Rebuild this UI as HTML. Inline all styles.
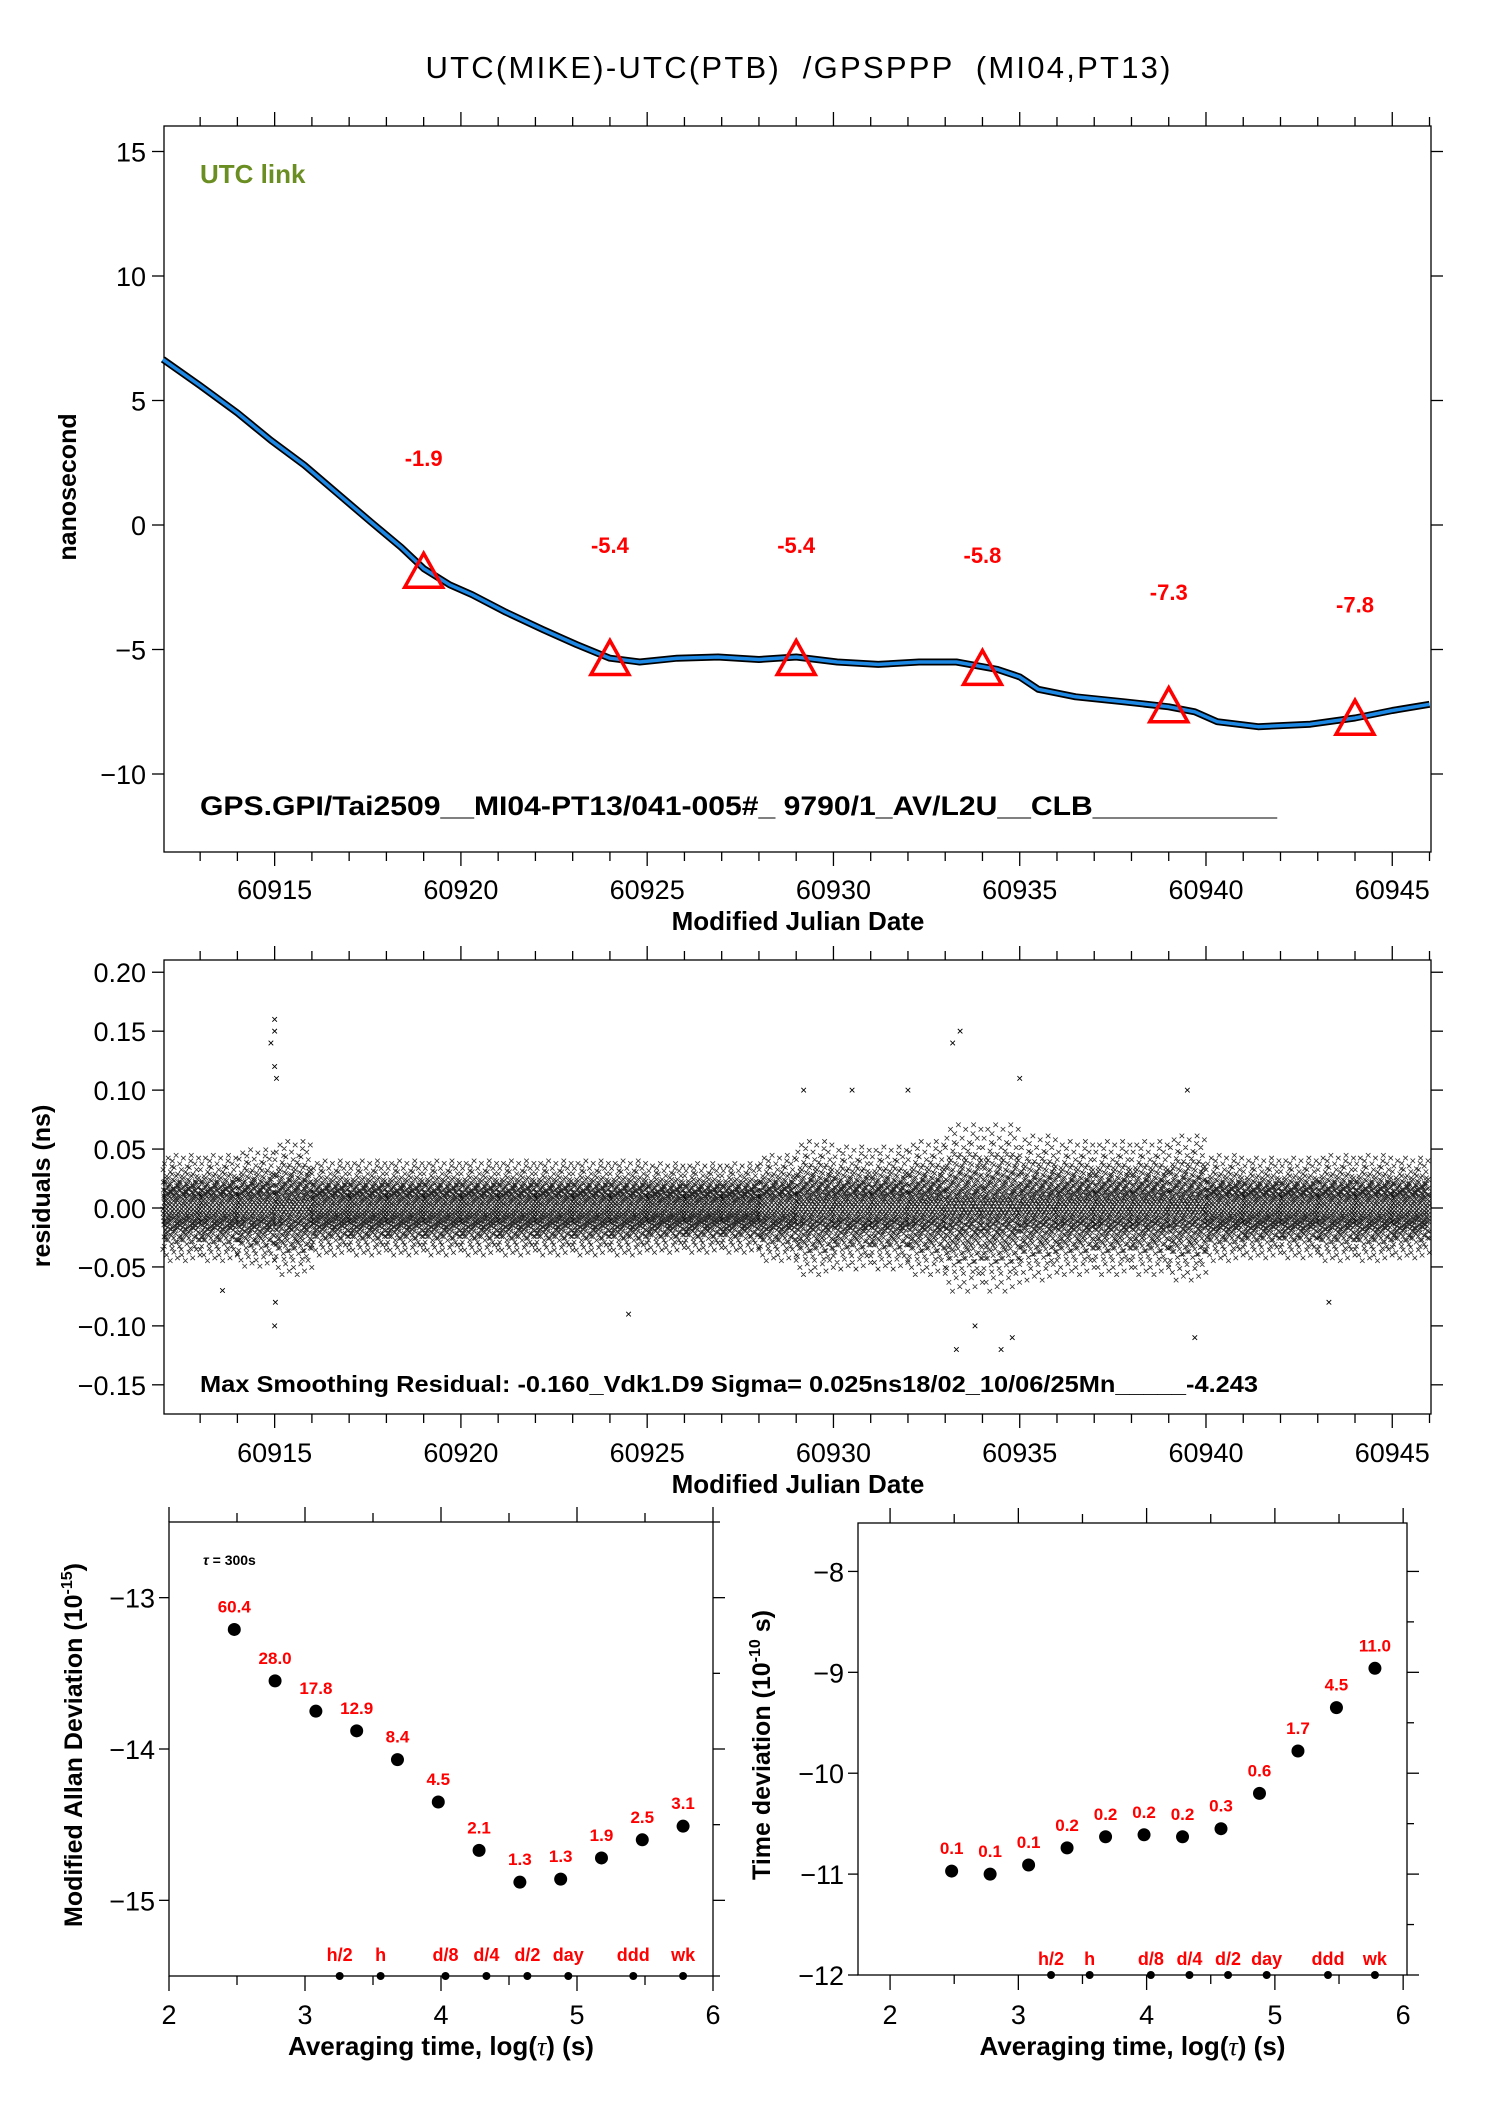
<!DOCTYPE html>
<html><head><meta charset="utf-8"><style>
html,body{margin:0;padding:0;background:#fff}
svg{display:block;font-family:"Liberation Sans",sans-serif}
</style></head><body>
<svg id="chart" xmlns="http://www.w3.org/2000/svg" width="1488" height="2105" viewBox="0 0 1488 2105">
<rect width="1488" height="2105" fill="#fff"/>
<text x="798" y="78" font-size="31" text-anchor="middle" style="white-space:pre" xml:space="preserve" textLength="745">UTC(MIKE)-UTC(PTB)  /GPSPPP  (MI04,PT13)</text>
<g id="g1"></g>
<g id="g2"></g>
<g id="g3"></g>
<g id="g4"></g>
</svg>
<script>
// ---- data: panel 1 ----
const seriesMjd = [60912,60913,60914,60914.9,60915.8,60916.7,60917.6,60918.4,60919,60919.7,60920.3,60921.2,60922.2,60923.1,60924,60924.8,60925.8,60926.9,60928,60929,60930.1,60931.2,60932.3,60933.3,60934.4,60935,60935.5,60936.5,60937.8,60939,60939.7,60940.3,60941.4,60942.8,60944,60945,60946];
const seriesNs = [6.65,5.6,4.5,3.4,2.4,1.25,0.1,-0.9,-1.75,-2.4,-2.8,-3.5,-4.2,-4.8,-5.35,-5.5,-5.35,-5.3,-5.4,-5.3,-5.5,-5.6,-5.5,-5.5,-5.8,-6.1,-6.6,-6.9,-7.1,-7.3,-7.5,-7.9,-8.1,-8.0,-7.75,-7.45,-7.2];
const triMjd = [60919,60924,60929,60934,60939,60944];
const triVals = [-1.9,-5.4,-5.4,-5.8,-7.3,-7.8];
const triLabels = ["-1.9","-5.4","-5.4","-5.8","-7.3","-7.8"];
const y1Ticks = [15,10,5,0,-5,-10];
const y1TickLabels = ["15","10","5","0","\u22125","\u221210"];
const xMjdTicks = [60915,60920,60925,60930,60935,60940,60945];
// ---- data: panel 2 ----
const residDays = [60912,60913,60914,60915,60916,60917,60918,60919,60920,60921,60922,60923,60924,60925,60926,60927,60928,60929,60930,60931,60932,60933,60934,60935,60936,60937,60938,60939,60940,60941,60942,60943,60944,60945];
const residSd = [0.019,0.019,0.021,0.024,0.017,0.017,0.017,0.017,0.017,0.017,0.017,0.017,0.017,0.016,0.016,0.016,0.019,0.024,0.022,0.022,0.024,0.03,0.03,0.026,0.024,0.024,0.024,0.026,0.019,0.018,0.018,0.019,0.019,0.018];
const outMjd = [60915,60915,60914.9,60915,60915.05,60915,60915.02,60933.4,60933.2,60933.3,60934.5,60935,60929.2,60930.5,60939.7,60939.5,60943.3,60924.5,60932,60933.8,60934.8,60913.6];
const outVal = [0.16,0.15,0.14,0.12,0.11,-0.1,-0.08,0.15,0.14,-0.12,-0.12,0.11,0.1,0.1,-0.11,0.1,-0.08,-0.09,0.1,-0.1,-0.11,-0.07];
const y2Ticks = [0.2,0.15,0.1,0.05,0,-0.05,-0.1,-0.15];
const y2TickLabels = ["0.20","0.15","0.10","0.05","0.00","\u22120.05","\u22120.10","\u22120.15"];
// ---- data: panels 3,4 ----
const logTau = [2.48,2.78,3.08,3.38,3.68,3.98,4.28,4.58,4.88,5.18,5.48,5.78];
const adevLog = [-13.21,-13.55,-13.75,-13.88,-14.07,-14.35,-14.67,-14.88,-14.86,-14.72,-14.60,-14.51];
const adevLabels = ["60.4","28.0","17.8","12.9","8.4","4.5","2.1","1.3","1.3","1.9","2.5","3.1"];
const tdevLog = [-10.97,-11.0,-10.91,-10.74,-10.63,-10.61,-10.63,-10.55,-10.2,-9.78,-9.35,-8.96];
const tdevLabels = ["0.1","0.1","0.1","0.2","0.2","0.2","0.2","0.3","0.6","1.7","4.5","11.0"];
const markTau = [3.255,3.556,4.033,4.334,4.635,4.936,5.414,5.78];
const markLabels = ["h/2","h","d/8","d/4","d/2","day","ddd","wk"];
const y3Ticks = [-13,-14,-15];
const y3TickLabels = ["\u221213","\u221214","\u221215"];
const y4Ticks = [-8,-9,-10,-11,-12];
const y4TickLabels = ["\u22128","\u22129","\u221210","\u221211","\u221212"];
const xLogTicks = [2,3,4,5,6];

const NS="http://www.w3.org/2000/svg";
function mk(parent,tag,attrs,name,text){const e=document.createElementNS(NS,tag);for(const k in attrs)e.setAttribute(k,attrs[k]);


if(text!==undefined)e.textContent=text;parent.appendChild(e);return e;}
function lin(d0,d1,r0,r1){return v=>r0+(v-d0)*(r1-r0)/(d1-d0);}

// ---------- Panel 1 ----------
(function(){
const g=document.getElementById('g1');
const L=164,R=1431,T=126,B=852;
const x=lin(60912.03,60946.04,L,R), y=lin(0,15,525,151.5);
mk(g,'rect',{x:L,y:T,width:R-L,height:B-T,fill:'none',stroke:'#000','stroke-width':1.3},'plot-frame');
for(let d=60912;d<=60946;d++){const X=x(d);if(X<L-1||X>R+1)continue;const maj=d%5===0;const len=maj?14:9;
mk(g,'line',{x1:X,y1:B,x2:X,y2:B+len,stroke:'#000','stroke-width':1.3},'x-tick');
mk(g,'line',{x1:X,y1:T,x2:X,y2:T-len,stroke:'#000','stroke-width':1.3},'x-tick-top');}
xMjdTicks.forEach(v=>mk(g,'text',{x:x(v),y:899,'font-size':27,'text-anchor':'middle'},'x-tick-label',String(v)));
y1Ticks.forEach((v,i)=>{const Y=y(v);
mk(g,'line',{x1:L-12,y1:Y,x2:L,y2:Y,stroke:'#000','stroke-width':1.3},'y-tick');
mk(g,'line',{x1:R,y1:Y,x2:R+12,y2:Y,stroke:'#000','stroke-width':1.3},'y-tick-right');
mk(g,'text',{x:L-18,y:Y+10,'font-size':27,'text-anchor':'end'},'y-tick-label',y1TickLabels[i]);});
mk(g,'text',{x:798,y:930,'font-size':26,'font-weight':'bold','text-anchor':'middle'},'x-axis-title','Modified Julian Date');
mk(g,'text',{x:0,y:0,'font-size':25,'font-weight':'bold','text-anchor':'middle',transform:'translate(76,487) rotate(-90)'},'y-axis-title','nanosecond');
mk(g,'text',{x:200,y:183,'font-size':26,'font-weight':'bold',fill:'#6b8e23'},'utc-link-label','UTC link');
const d=seriesMjd.map((m,i)=>(i?'L':'M')+x(m).toFixed(1)+' '+y(seriesNs[i]).toFixed(1)).join(' ');
mk(g,'path',{d:d,fill:'none',stroke:'#000','stroke-width':7,'stroke-linejoin':'round'},'series-outline');
mk(g,'path',{d:d,fill:'none',stroke:'#1e88e5','stroke-width':3.5,'stroke-linejoin':'round'},'series-line');
triMjd.forEach((m,i)=>{const X=x(m),Y=y(triVals[i]);
mk(g,'path',{d:`M${X-19} ${Y+15} L${X} ${Y-19} L${X+19} ${Y+15} Z`,fill:'none',stroke:'#f00','stroke-width':3.5},'triangle-marker');
mk(g,'text',{x:X,y:y(triVals[i]+4.6)+8,'font-size':22,'font-weight':'bold',fill:'#f00','text-anchor':'middle'},'triangle-value-label',triLabels[i]);});
mk(g,'text',{x:200,y:815,'font-size':27,'font-weight':'bold',textLength:1077,lengthAdjust:'spacingAndGlyphs'},'data-id-label','GPS.GPI/Tai2509__MI04-PT13/041-005#_  9790/1_AV/L2U__CLB___________');
})();

// ---------- Panel 2 ----------
(function(){
const g=document.getElementById('g2');
const L=164,R=1431,T=960,B=1414;
const x=lin(60912.03,60946.04,L,R), y=lin(0,0.05,1208,1149.06);
function probit(p){const a=[-39.6968,220.946,-275.929,138.358,-30.6648,2.50663],b=[-54.4761,161.586,-155.699,66.8013,-13.2807],c=[-0.00778489,-0.322396,-2.40076,-2.54973,4.37466,2.93816],dd=[0.00778470,0.322467,2.44513,3.75441];
let q,r;if(p<0.02425){q=Math.sqrt(-2*Math.log(p));return(((((c[0]*q+c[1])*q+c[2])*q+c[3])*q+c[4])*q+c[5])/((((dd[0]*q+dd[1])*q+dd[2])*q+dd[3])*q+1);}
if(p>1-0.02425){q=Math.sqrt(-2*Math.log(1-p));return-(((((c[0]*q+c[1])*q+c[2])*q+c[3])*q+c[4])*q+c[5])/((((dd[0]*q+dd[1])*q+dd[2])*q+dd[3])*q+1);}
q=p-0.5;r=q*q;return(((((a[0]*r+a[1])*r+a[2])*r+a[3])*r+a[4])*r+a[5])*q/(((((b[0]*r+b[1])*r+b[2])*r+b[3])*r+b[4])*r+1);}
const N=28,SUB=12,s=2.3;
residDays.forEach((day,i)=>{let dstr='';
for(let j=0;j<SUB;j++){for(let k=0;k<N;k++){
const m=day+(j+((k*13+j*5)%N)/N)/SUB; if(m>60946)continue;
const v=residSd[i]*probit((k+0.5)/N)*(1+0.12*(((j*7+k*3)%5)-2)/2);
const X=x(m),Y=y(v);
dstr+=`M${(X-s).toFixed(1)} ${(Y-s).toFixed(1)}L${(X+s).toFixed(1)} ${(Y+s).toFixed(1)}M${(X-s).toFixed(1)} ${(Y+s).toFixed(1)}L${(X+s).toFixed(1)} ${(Y-s).toFixed(1)}`;}}
mk(g,'path',{d:dstr,stroke:'#000','stroke-width':0.8,fill:'none','stroke-opacity':0.85},'residual-points-day');});
outMjd.forEach((m,i)=>{const X=x(m),Y=y(outVal[i]);
mk(g,'path',{d:`M${X-s} ${Y-s}L${X+s} ${Y+s}M${X-s} ${Y+s}L${X+s} ${Y-s}`,stroke:'#000','stroke-width':0.9},'residual-outlier');});
mk(g,'rect',{x:L,y:T,width:R-L,height:B-T,fill:'none',stroke:'#000','stroke-width':1.3},'plot-frame');
for(let d=60912;d<=60946;d++){const X=x(d);if(X<L-1||X>R+1)continue;const maj=d%5===0;const len=maj?14:9;
mk(g,'line',{x1:X,y1:B,x2:X,y2:B+len,stroke:'#000','stroke-width':1.3},'x-tick');
mk(g,'line',{x1:X,y1:T,x2:X,y2:T-len,stroke:'#000','stroke-width':1.3},'x-tick-top');}
xMjdTicks.forEach(v=>mk(g,'text',{x:x(v),y:1462,'font-size':27,'text-anchor':'middle'},'x-tick-label',String(v)));
y2Ticks.forEach((v,i)=>{const Y=y(v);
mk(g,'line',{x1:L-12,y1:Y,x2:L,y2:Y,stroke:'#000','stroke-width':1.3},'y-tick');
mk(g,'line',{x1:R,y1:Y,x2:R+12,y2:Y,stroke:'#000','stroke-width':1.3},'y-tick-right');
mk(g,'text',{x:L-18,y:Y+10,'font-size':27,'text-anchor':'end'},'y-tick-label',y2TickLabels[i]);});
mk(g,'text',{x:798,y:1493,'font-size':26,'font-weight':'bold','text-anchor':'middle'},'x-axis-title','Modified Julian Date');
mk(g,'text',{x:0,y:0,'font-size':25,'font-weight':'bold','text-anchor':'middle',transform:'translate(50,1186) rotate(-90)'},'y-axis-title','residuals (ns)');
mk(g,'text',{x:200,y:1392,'font-size':23,'font-weight':'bold',textLength:1058,lengthAdjust:'spacingAndGlyphs'},'residual-stats-label','Max Smoothing Residual: -0.160_Vdk1.D9  Sigma= 0.025ns18/02_10/06/25Mn_____-4.243');
})();

// ---------- Panels 3 & 4 ----------
function stabPanel(gid,L,R,T,B,xd,yd,vals,labels,yTicks,yTickLbls,ylab,ylx,markLblY,tauNote){
const g=document.getElementById(gid);
const x=lin(xd[0],xd[1],L,R), y=lin(yd[0],yd[1],B,T);
mk(g,'rect',{x:L,y:T,width:R-L,height:B-T,fill:'none',stroke:'#000','stroke-width':1.3},'plot-frame');
for(let v=2;v<=6.001;v+=0.5){const X=x(v);const maj=Math.abs(v-Math.round(v))<1e-6;const len=maj?15:9;
mk(g,'line',{x1:X,y1:B,x2:X,y2:B+len,stroke:'#000','stroke-width':1.3},'x-tick');
mk(g,'line',{x1:X,y1:T,x2:X,y2:T-len,stroke:'#000','stroke-width':1.3},'x-tick-top');}
xLogTicks.forEach(v=>mk(g,'text',{x:x(v),y:2024,'font-size':27,'text-anchor':'middle'},'x-tick-label',String(v)));
for(let v=Math.ceil(yd[0]*2)/2;v<=yd[1]+1e-6;v+=0.5){const Y=y(v);const maj=Math.abs(v-Math.round(v))<1e-6;
mk(g,'line',{x1:R,y1:Y,x2:R+(maj?12:7),y2:Y,stroke:'#000','stroke-width':1.3},'y-tick-right');}
yTicks.forEach((v,i)=>{const Y=y(v);
mk(g,'line',{x1:L-10,y1:Y,x2:L,y2:Y,stroke:'#000','stroke-width':1.3},'y-tick');
mk(g,'text',{x:L-14,y:Y+10,'font-size':27,'text-anchor':'end'},'y-tick-label',yTickLbls[i]);});
const xt=mk(g,'text',{x:(L+R)/2,y:2055,'font-size':26,'font-weight':'bold','text-anchor':'middle'},'x-axis-title','Averaging time, log(');
const ts=document.createElementNS(NS,'tspan');ts.setAttribute('font-family','"Liberation Serif",serif');ts.setAttribute('font-style','italic');ts.setAttribute('font-weight','normal');ts.textContent='\u03c4';xt.appendChild(ts);
xt.appendChild(document.createTextNode(') (s)'));
const yt=mk(g,'text',{x:0,y:0,'font-size':25,'font-weight':'bold','text-anchor':'middle',transform:`translate(${ylx},1745) rotate(-90)`},'y-axis-title',ylab[0]);
const sup=document.createElementNS(NS,'tspan');sup.setAttribute('font-size','16');sup.setAttribute('dy','-10');sup.textContent=ylab[1];yt.appendChild(sup);
const rest=document.createElementNS(NS,'tspan');rest.setAttribute('dy','10');rest.textContent=ylab[2];yt.appendChild(rest);
logTau.forEach((t,i)=>{const X=x(t),Y=y(vals[i]);
mk(g,'circle',{cx:X,cy:Y,r:6.5,fill:'#000'},'data-point');
mk(g,'text',{x:X,y:Y-17,'font-size':17,'font-weight':'bold',fill:'#f00','text-anchor':'middle'},'point-value-label',labels[i]);});
markTau.forEach((t,i)=>{const X=x(t);
mk(g,'circle',{cx:X,cy:B,r:4,fill:'#000'},'timescale-marker');
mk(g,'text',{x:X,y:markLblY,'font-size':18,'font-weight':'bold',fill:'#f00','text-anchor':'middle'},'timescale-label',markLabels[i]);});
if(tauNote){const tn=mk(g,'text',{x:203,y:1565,'font-size':14,'font-weight':'bold'},'tau0-note','');
const tt=document.createElementNS(NS,'tspan');tt.setAttribute('font-style','italic');tt.textContent='\u03c4';tn.appendChild(tt);tn.appendChild(document.createTextNode(' = 300s'));}
}
stabPanel('g3',169,713,1522,1976,[2,6],[-15.5,-12.5],adevLog,adevLabels,y3Ticks,y3TickLabels,['Modified Allan Deviation (10','-15',')'],82,1961,true);
stabPanel('g4',858,1407,1523,1975,[1.75,6.03],[-12,-7.52],tdevLog,tdevLabels,y4Ticks,y4TickLabels,['Time deviation (10','-10',' s)'],770,1965,false);
</script>
</body></html>
